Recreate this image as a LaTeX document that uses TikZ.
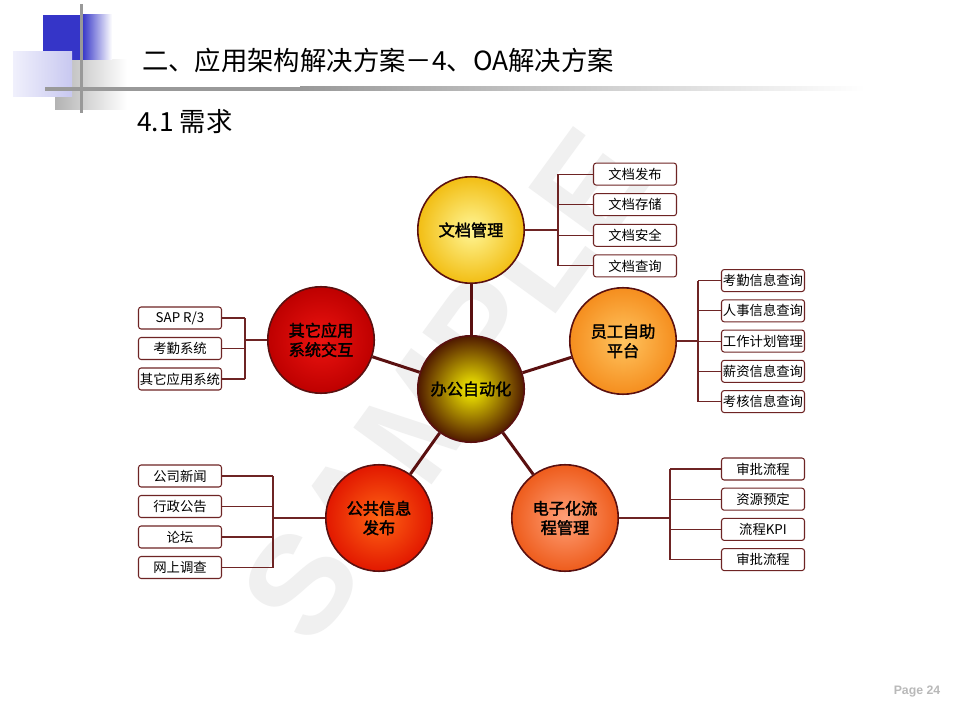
\documentclass[tikz,border=0pt]{standalone}
\usepackage{fontspec}
\setmainfont{Noto Sans CJK SC}[AutoFakeBold=2]
\newfontfamily\arialfont{Liberation Sans}
\usepackage{xcolor}
\usetikzlibrary{positioning}
\definecolor{spokecol}{HTML}{5A1010}
\definecolor{twigcol}{HTML}{6E2424}
\definecolor{decoblue}{HTML}{3535C8}
\tikzset{
    topic/.style={circle, draw=spokecol, line width=0.9pt, minimum size=2.13cm, inner sep=0pt,
        align=center, font=\bfseries\fontsize{9.2}{11}\selectfont},
    leaf/.style={draw=twigcol, fill=white, line width=0.6pt, rounded corners=1.5pt,
        minimum width=1.66cm, minimum height=0.44cm, inner sep=0pt, font=\fontsize{7.6}{9}\selectfont},
    spoke/.style={spokecol, line width=1.7pt},
    stem/.style={twigcol, line width=1.1pt},
    twig/.style={twigcol, line width=0.6pt}
}
\begin{document}
\begin{tikzpicture}[x=0.02cm, y=-0.02cm]
            \fill[white] (0,0) rectangle (959,719);
            \useasboundingbox (0,0) rectangle (959,719);
            \shade[left color=gray!60, right color=white] (55,60) rectangle (127,110);
            \fill[decoblue] (43,15) rectangle (82,60);
            \shade[left color=decoblue, right color=white] (82,15) rectangle (112,60);
            \shade[left color={rgb,255:red,240;green,240;blue,252}, right color={rgb,255:red,200;green,200;blue,240}] (13,52) rectangle (72,97);
            \fill[gray!80] (80,4) rectangle (83,113);
            \fill[gray!80] (45,87) rectangle (300,91);
            \shade[left color=gray!80, right color=white] (300,87) rectangle (865,91);
            \node[anchor=west, font=\fontsize{15}{18}\selectfont] (title) at (136,60) {二、应用架构解决方案－4、OA解决方案};
            \node[anchor=west, font=\fontsize{15}{18}\selectfont] (subtitle) at (131,122) {4.1 需求};
            \node[rotate=54, text=gray!12, font=\arialfont\bfseries\fontsize{80}{80}\selectfont] (mark) at (445,385) {SAMPLE};
            \node[topic, inner color={rgb,255:red,250;green,242;blue,0}, outer color={rgb,255:red,80;green,26;blue,0}] (oa) at (471,389) {办公自动化};
            \node[topic, inner color={rgb,255:red,255;green,246;blue,150}, outer color={rgb,255:red,242;green,190;blue,20}] (doc) at (471,230) {文档管理};
            \node[topic, inner color={rgb,255:red,255;green,196;blue,96}, outer color={rgb,255:red,245;green,142;blue,30}] (self) at (623,341) {员工自助\\平台};
            \node[topic, inner color={rgb,255:red,255;green,160;blue,120}, outer color={rgb,255:red,238;green,92;blue,28}] (flow) at (565,518) {电子化流\\程管理};
            \node[topic, inner color={rgb,255:red,255;green,100;blue,20}, outer color={rgb,255:red,226;green,24;blue,0}] (pub) at (379,518) {公共信息\\发布};
            \node[topic, inner color={rgb,255:red,236;green,20;blue,16}, outer color={rgb,255:red,190;green,0;blue,0}] (other) at (321,340) {其它应用\\系统交互};
            \foreach \n in {doc,self,flow,pub,other} \draw[spoke] (oa) -- (\n);
            \foreach \t [count=\i] in {文档发布,文档存储,文档安全,文档查询}
                \node[leaf] (doc\i) at (635,143.5+30.6*\i) {\t};
            \foreach \t [count=\i] in {考勤信息查询,人事信息查询,工作计划管理,薪资信息查询,考核信息查询}
                \node[leaf] (self\i) at (763,250.3+30.25*\i) {\t};
            \foreach \t [count=\i] in {审批流程,资源预定,流程KPI,审批流程}
                \node[leaf] (flow\i) at (763,438.8+30.2*\i) {\t};
            \foreach \t [count=\i] in {公司新闻,行政公告,论坛,网上调查}
                \node[leaf] (pub\i) at (180,445.5+30.5*\i) {\t};
            \foreach \t [count=\i] in {SAP R/3,考勤系统,其它应用系统}
                \node[leaf] (other\i) at (180,287.5+30.5*\i) {\t};
            \coordinate (docbus) at (558,230);
            \coordinate (selfbus) at (698,341);
            \coordinate (flowbus) at (670,518);
            \coordinate (pubbus) at (273,518);
            \coordinate (otherbus) at (245,340);
            \draw[stem] (doc) -- (docbus);
            \draw[stem] (self) -- (selfbus);
            \draw[stem] (flow) -- (flowbus);
            \draw[stem] (pub) -- (pubbus);
            \draw[stem] (other) -- (otherbus);
            \draw[twig] (docbus |- doc1) -- (docbus |- doc4);
            \draw[twig] (selfbus |- self1) -- (selfbus |- self5);
            \draw[twig] (flowbus |- flow1) -- (flowbus |- flow4);
            \draw[twig] (pubbus |- pub1) -- (pubbus |- pub4);
            \draw[twig] (otherbus |- other1) -- (otherbus |- other3);
            \foreach \i in {1,...,4} \draw[twig] (docbus |- doc\i) -- (doc\i);
            \foreach \i in {1,...,5} \draw[twig] (selfbus |- self\i) -- (self\i);
            \foreach \i in {1,...,4} \draw[twig] (flowbus |- flow\i) -- (flow\i);
            \foreach \i in {1,...,4} \draw[twig] (pubbus |- pub\i) -- (pub\i);
            \foreach \i in {1,...,3} \draw[twig] (otherbus |- other\i) -- (other\i);
            \node[text=gray!55, font=\arialfont\bfseries\fontsize{7}{8}\selectfont] (page) at (917,692) {Page 24};
\end{tikzpicture}
\end{document}
